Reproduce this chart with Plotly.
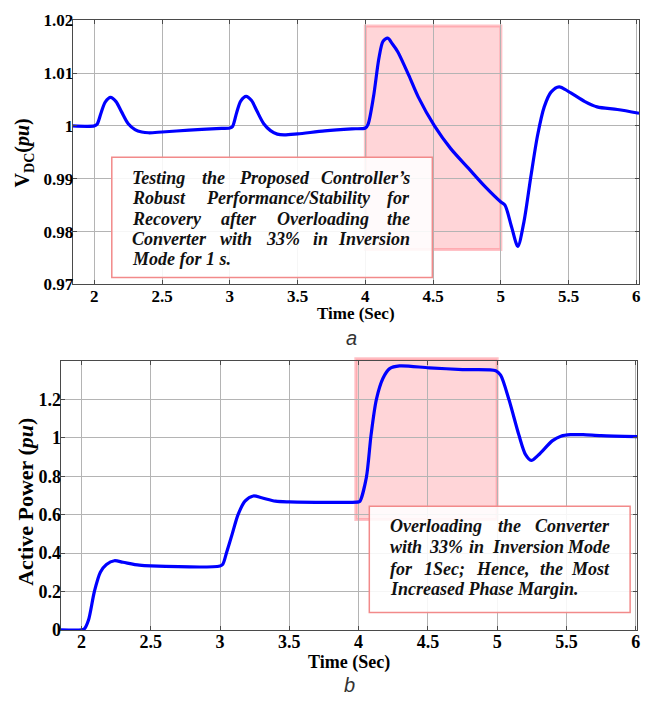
import plotly.graph_objects as go

# ---------------- data ----------------
t_vdc = [1.84, 2.00, 2.02, 2.05, 2.08, 2.12, 2.16, 2.20, 2.25, 2.30, 2.35, 2.40, 2.50,
         2.70, 2.90, 3.00, 3.02, 3.05, 3.08, 3.12, 3.16, 3.20, 3.25, 3.30, 3.35, 3.40,
         3.50, 3.70, 3.90, 4.00, 4.02, 4.06, 4.10, 4.13, 4.165, 4.20, 4.24, 4.32, 4.39,
         4.51, 4.63, 4.76, 4.88, 5.00, 5.03, 5.08, 5.125, 5.17, 5.22, 5.27, 5.32, 5.37,
         5.43, 5.50, 5.62, 5.71, 5.86, 6.02]
vdc = [1.0000, 1.0000, 1.0003, 1.0025, 1.0045, 1.0054, 1.0046, 1.0027, 1.0004, 0.9993,
       0.99885, 0.99870, 0.99885, 0.9992, 0.99950, 0.9996, 0.9999, 1.0025, 1.0047, 1.0056,
       1.0048, 1.0028, 1.0004, 0.9991, 0.99845, 0.99830, 0.99850, 0.99905, 0.99945, 0.9996,
       1.0003, 1.0055, 1.0128, 1.0160, 1.0166, 1.0155, 1.0140, 1.0096, 1.0055, 1.0000,
       0.9957, 0.9920, 0.9886, 0.9856, 0.9850, 0.9808, 0.9772, 0.9818, 0.9902, 0.9981,
       1.0036, 1.0064, 1.0074, 1.0065, 1.0046, 1.0036, 1.0031, 1.0024]

t_p = [1.85, 2.00, 2.02, 2.05, 2.093, 2.136, 2.18, 2.237, 2.30, 2.417, 2.50, 3.00, 3.02,
       3.046, 3.088, 3.13, 3.18, 3.24, 3.30, 3.40, 3.50, 4.00, 4.01, 4.056, 4.09, 4.128,
       4.176, 4.224, 4.296, 4.51, 4.75, 4.99, 5.025, 5.085, 5.157, 5.205, 5.246, 5.30,
       5.40, 5.46, 5.53, 5.62, 5.75, 6.01]
p_act = [0.0, 0.0, 0.005, 0.05, 0.20, 0.30, 0.34, 0.36, 0.352, 0.337, 0.333, 0.333, 0.342,
         0.40, 0.50, 0.60, 0.67, 0.697, 0.688, 0.670, 0.6665, 0.6665, 0.67, 0.793, 1.015,
         1.199, 1.310, 1.360, 1.374, 1.364, 1.355, 1.349, 1.326, 1.199, 1.014, 0.912, 0.882,
         0.912, 0.985, 1.008, 1.016, 1.016, 1.011, 1.006]

x_ticks = [2, 2.5, 3, 3.5, 4, 4.5, 5, 5.5, 6]
vdc_ticks = [0.97, 0.98, 0.99, 1.0, 1.01, 1.02]
p_ticks = [0, 0.2, 0.4, 0.6, 0.8, 1.0, 1.2]

overload_start, overload_end = 4.0, 5.0

note_a = ["Testing the Proposed Controller\u2019s",
          "Robust Performance/Stability for",
          "Recovery after Overloading the",
          "Converter with 33% in Inversion",
          "Mode for 1 s."]
note_b = ["Overloading the Converter",
          "with 33% in Inversion Mode",
          "for 1Sec; Hence, the Most",
          "Increased Phase Margin."]

# ---------------- layout helpers ----------------
W, H = 660, 709
def PX(x):
    return x / W
def PY(y):
    return 1 - y / H

SERIF = "Liberation Serif, Times New Roman, serif"
BLUE = "#0000ff"
GRID = "#b4b4b4"
AXC = "#4a4a4a"

fig = go.Figure()
fig.add_trace(go.Scatter(x=t_vdc, y=vdc, mode="lines", xaxis="x", yaxis="y",
                         line=dict(color=BLUE, width=3.2, shape="spline", smoothing=0.8),
                         showlegend=False, hoverinfo="skip"))
fig.add_trace(go.Scatter(x=t_p, y=p_act, mode="lines", xaxis="x2", yaxis="y2",
                         line=dict(color=BLUE, width=3.2, shape="spline", smoothing=0.8),
                         showlegend=False, hoverinfo="skip"))

ax_common = dict(showgrid=True, gridcolor=GRID, gridwidth=1, showline=True,
                 linecolor=AXC, linewidth=1, mirror="ticks", ticks="inside",
                 ticklen=4, tickcolor=AXC, zeroline=False, fixedrange=True)

top_xr = [1.84, 6.02]
bot_xr = [1.85, 6.01]
top_yr = [0.97, 1.0201]
bot_yr = [0, 1.398]
top_dom_x = [PX(73), PX(642)]
top_dom_y = [PY(283), PY(11)]
bot_dom_x = [PX(61), PX(640)]
bot_dom_y = [PY(638), PY(362)]

TICK_TOP = dict(family=SERIF, size=17, color="black", weight="bold")
TICK_BOT = dict(family=SERIF, size=18, color="black", weight="bold")
fig.update_layout(
    width=W, height=H, margin=dict(l=0, r=0, t=0, b=0),
    paper_bgcolor="white", plot_bgcolor="white",
    xaxis=dict(ax_common, domain=top_dom_x, range=top_xr, tickvals=x_ticks, anchor="y",
               tickfont=TICK_TOP, ticklabelstandoff=-4),
    yaxis=dict(ax_common, domain=top_dom_y, range=top_yr, tickvals=vdc_ticks, anchor="x",
               tickfont=TICK_TOP, ticklabelstandoff=-5),
    xaxis2=dict(ax_common, domain=bot_dom_x, range=bot_xr, tickvals=x_ticks, anchor="y2",
                tickfont=TICK_BOT, ticklabelstandoff=-5),
    yaxis2=dict(ax_common, domain=bot_dom_y, range=bot_yr, tickvals=p_ticks, anchor="x2",
                tickfont=TICK_BOT, ticklabelstandoff=-5),
)

# overload windows
PINK_FILL = "rgba(255,105,115,0.28)"
PINK_LINE = "rgba(255,120,130,0.45)"
fig.add_shape(type="rect", xref="x", yref="y", x0=overload_start, x1=overload_end,
              y0=0.9766, y1=1.0189, fillcolor=PINK_FILL,
              line=dict(color=PINK_LINE, width=3), layer="below")

def bot_x_paper(t):
    return bot_dom_x[0] + (t - bot_xr[0]) / (bot_xr[1] - bot_xr[0]) * (bot_dom_x[1] - bot_dom_x[0])
def bot_y_paper(v):
    return bot_dom_y[0] + (v - bot_yr[0]) / (bot_yr[1] - bot_yr[0]) * (bot_dom_y[1] - bot_dom_y[0])

fig.add_shape(type="rect", xref="paper", yref="paper",
              x0=bot_x_paper(overload_start - 0.02), x1=bot_x_paper(overload_end),
              y0=bot_y_paper(0.574), y1=bot_y_paper(1.411), fillcolor=PINK_FILL,
              line=dict(color=PINK_LINE, width=3), layer="below")

# text boxes
BOX_LINE = "#f28a8a"
fig.add_shape(type="rect", xref="paper", yref="paper", x0=PX(112.3), x1=PX(434.3),
              y0=PY(276), y1=PY(152.3), fillcolor="rgba(255,255,255,0.88)",
              line=dict(color=BOX_LINE, width=1.5), layer="above")
fig.add_shape(type="rect", xref="paper", yref="paper", x0=PX(371), x1=PX(633),
              y0=PY(620), y1=PY(511), fillcolor="rgba(255,255,255,0.88)",
              line=dict(color=BOX_LINE, width=1.5), layer="above")

# approximate glyph widths (Times Bold Italic, 1/1000 em) for justification
CW = {' ': 250, '%': 833, '\u2019': 333, "'": 278, ',': 250, '.': 250, '/': 278, ';': 333,
      'A': 667, 'B': 667, 'C': 667, 'D': 722, 'E': 667, 'F': 667, 'G': 722, 'H': 778, 'I': 389,
      'J': 500, 'K': 667, 'L': 611, 'M': 889, 'N': 722, 'O': 722, 'P': 611, 'Q': 722, 'R': 667,
      'S': 556, 'T': 611, 'U': 722, 'V': 667, 'W': 889, 'X': 667, 'Y': 611, 'Z': 611,
      'a': 500, 'b': 500, 'c': 444, 'd': 500, 'e': 444, 'f': 333, 'g': 500, 'h': 556, 'i': 278,
      'j': 278, 'k': 500, 'l': 278, 'm': 778, 'n': 556, 'o': 500, 'p': 500, 'q': 500, 'r': 389,
      's': 389, 't': 278, 'u': 556, 'v': 444, 'w': 667, 'x': 500, 'y': 444, 'z': 389}
def text_w(s, fs):
    return sum(CW.get(c, 500) for c in s) * fs / 1000.0

NOTE_FONT = dict(family=SERIF, size=18, color="#111111", weight="bold", style="italic")

def add_justified(lines, left, right, baselines, fs):
    for k, (line, base) in enumerate(zip(lines, baselines)):
        yc = PY(base - 6)
        words = line.split(" ")
        last = (k == len(lines) - 1)
        if last or len(words) == 1:
            fig.add_annotation(x=PX(left), y=yc, xref="paper", yref="paper", text=line,
                               showarrow=False, xanchor="left", yanchor="middle",
                               font=NOTE_FONT, borderpad=0)
            continue
        widths = [text_w(w, fs) for w in words]
        gap = (right - left - sum(widths)) / (len(words) - 1)
        xpos = left
        for i, w in enumerate(words):
            if i == len(words) - 1:
                fig.add_annotation(x=PX(right), y=yc, xref="paper", yref="paper", text=w,
                                   showarrow=False, xanchor="right", yanchor="middle",
                                   font=NOTE_FONT, borderpad=0)
            else:
                fig.add_annotation(x=PX(xpos), y=yc, xref="paper", yref="paper", text=w,
                                   showarrow=False, xanchor="left", yanchor="middle",
                                   font=NOTE_FONT, borderpad=0)
            xpos += widths[i] + gap

add_justified(note_a, 131.7, 413.3, [179.3, 200.7, 221.7, 242.7, 263.3], 18)
add_justified(note_b, 390.7, 613.3, [537.7, 559.3, 581.0, 601.7], 18)

# axis titles and panel labels
TITLE_FONT = dict(family=SERIF, size=17, color="black", weight="bold")
fig.add_annotation(x=PX(357.5), y=PY(312.5), xref="paper", yref="paper", text="Time (Sec)",
                   showarrow=False, xanchor="center", yanchor="middle", font=TITLE_FONT)
fig.add_annotation(x=PX(350.5), y=PY(671), xref="paper", yref="paper", text="Time (Sec)",
                   showarrow=False, xanchor="center", yanchor="middle",
                   font=dict(TITLE_FONT, size=18))
fig.add_annotation(x=PX(23.5), y=PY(148), xref="paper", yref="paper",
                   text="V<sub>DC</sub>(<i>pu</i>)", textangle=-90,
                   showarrow=False, xanchor="center", yanchor="middle",
                   font=dict(TITLE_FONT, size=20))
fig.add_annotation(x=PX(25.5), y=PY(506), xref="paper", yref="paper",
                   text="Active Power (<i>pu</i>)", textangle=-90,
                   showarrow=False, xanchor="center", yanchor="middle",
                   font=dict(TITLE_FONT, size=22))
LAB_FONT = dict(family="Liberation Sans, Arial, sans-serif", size=20, color="#333333",
                style="italic")
fig.add_annotation(x=PX(353), y=PY(338), xref="paper", yref="paper", text="a",
                   showarrow=False, xanchor="center", yanchor="middle", font=LAB_FONT)
fig.add_annotation(x=PX(351), y=PY(695), xref="paper", yref="paper", text="b",
                   showarrow=False, xanchor="center", yanchor="middle", font=LAB_FONT)

# remove the default 8px page margin so the figure sits at the window's top-left corner
fig.write_html("out.html", config={"displayModeBar": False},
               post_script="document.body.style.margin='0px';")
